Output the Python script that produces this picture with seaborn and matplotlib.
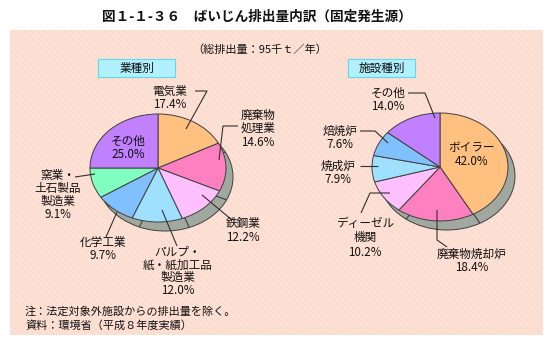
import matplotlib
matplotlib.use("Agg")
import matplotlib.pyplot as plt
import seaborn as sns
from matplotlib.patches import Rectangle

sns.set_theme(style="white")
plt.rcParams['font.family'] = ['Noto Sans CJK JP', 'DejaVu Sans']
plt.rcParams['hatch.linewidth'] = 0.5

# ---- data ----
ind_labels = ["電気業", "廃棄物\n処理業", "鉄鋼業", "パルプ・\n紙・紙加工品\n製造業",
              "化学工業", "窯業・\n土石製品\n製造業", "その他"]
ind_values = [17.4, 14.6, 12.2, 12.0, 9.7, 9.1, 25.0]

fac_labels = ["ボイラー", "廃棄物焼却炉", "ディーゼル\n機関", "焼成炉", "焙焼炉", "その他"]
fac_values = [42.0, 18.4, 10.2, 7.9, 7.6, 14.0]

ind_colors = sns.color_palette(["#ffc080", "#ff80c0", "#ffc0ff", "#a0e0ff",
                                "#80c0ff", "#80ffc0", "#c080ff"])
fac_colors = sns.color_palette(["#ffc080", "#ff80c0", "#ffc0ff", "#a0e0ff",
                                "#80c0ff", "#c080ff"])

title = "図１-１-３６　ばいじん排出量内訳（固定発生源）"
subtitle = "（総排出量：95千ｔ／年）"
note1 = "注：法定対象外施設からの排出量を除く。"
note2 = "資料：環境省（平成８年度実績）"

W, H = 554, 346
fig = plt.figure(figsize=(W / 100, H / 100), dpi=100)
fig.patch.set_facecolor("white")

# background axes in pixel coords
bg = fig.add_axes([0, 0, 1, 1], zorder=0)
bg.set_xlim(0, W); bg.set_ylim(H, 0); bg.axis("off")
bg.add_patch(Rectangle((10, 30), 533, 305, facecolor="#fde0d4", edgecolor="none"))
bg.add_patch(Rectangle((10, 30), 533, 305, facecolor="none", edgecolor="#fad6c9",
                       hatch="\\\\\\\\\\", linewidth=0))


def pie_axes(cx, cy, rx, ry, values, colors, box=130):
    ax = fig.add_axes([(cx - box) / W, 1 - (cy + box) / H, 2 * box / W, 2 * box / H], zorder=1)
    dx, dy = 7, 9
    ax.pie(values, colors=["#a0a8a0"] * len(values), startangle=90, counterclock=False,
           center=(dx / rx, -dy / ry), radius=1,
           wedgeprops=dict(edgecolor="#404040", linewidth=0.7))
    ax.pie(values, colors=colors, startangle=90, counterclock=False,
           center=(0, 0), radius=1,
           wedgeprops=dict(edgecolor="#404040", linewidth=0.7))
    ax.set_aspect("auto")
    ax.set_xlim(-box / rx, box / rx)
    ax.set_ylim(-box / ry, box / ry)
    ax.axis("off")
    ax.patch.set_alpha(0)
    return ax


pie_axes(158, 168, 68, 54, ind_values, ind_colors)
pie_axes(440, 167, 68, 54, fac_values, fac_colors)

# overlay axes for texts & leader lines
ov = fig.add_axes([0, 0, 1, 1], zorder=2)
ov.set_xlim(0, W); ov.set_ylim(H, 0); ov.axis("off"); ov.patch.set_alpha(0)

FS = 8.4
LC = "#303030"


def label(x, y0, text, value, step=13.5):
    lines = text.split("\n") + [f"{value:.1f}%"]
    for i, s in enumerate(lines):
        ov.text(x, y0 + i * step, s, ha="center", va="center", fontsize=FS,
                color="#111111")


def lead(pts):
    xs, ys = zip(*pts)
    ov.plot(xs, ys, color=LC, lw=0.8, solid_capstyle="butt")


ov.text(257, 17, title, ha="center", va="center", fontsize=9.8, fontweight="bold", color="#111111")
ov.text(260, 50, subtitle, ha="center", va="center", fontsize=8, color="#111111")
for (x0, x1, s) in [(98, 175, "業種別"), (348, 415, "施設種別")]:
    ov.add_patch(Rectangle((x0, 59), x1 - x0, 18, facecolor="#b0f0ff", edgecolor="#60d8f0", lw=0.8))
    ov.text((x0 + x1) / 2, 68, s, ha="center", va="center", fontsize=FS, color="#111111")

# left pie labels
label(170, 91, ind_labels[0], ind_values[0])
lead([(186, 129), (207, 91), (195, 91)])
label(258, 115, ind_labels[1], ind_values[1])
lead([(219, 160), (223, 126), (238, 126)])
label(243, 224, ind_labels[2], ind_values[2])
lead([(202, 195), (232, 220)])
label(178, 252, ind_labels[3], ind_values[3], step=12.7)
lead([(162, 210), (177, 246)])
label(103, 242, ind_labels[4], ind_values[4])
lead([(117, 212), (106, 237)])
label(58, 175, ind_labels[5], ind_values[5], step=13.3)
lead([(75, 177), (95, 174)])
label(128, 141, ind_labels[6], ind_values[6])

# right pie labels
label(472, 148, fac_labels[0], fac_values[0])
label(472, 254, fac_labels[1], fac_values[1])
lead([(437, 210), (437, 240), (447, 247)])
label(365, 223, fac_labels[2], fac_values[2], step=14.5)
lead([(390, 193), (370, 193), (361, 213)])
label(338, 166, fac_labels[3], fac_values[3])
lead([(378, 166), (360, 166)])
label(340, 131, fac_labels[4], fac_values[4])
lead([(388, 143), (375, 131), (360, 131)])
label(388, 93, fac_labels[5], fac_values[5])
lead([(435, 118), (425, 93), (408, 93)])

ov.text(25, 312, note1, ha="left", va="center", fontsize=8, color="#111111")
ov.text(25, 325, note2, ha="left", va="center", fontsize=8, color="#111111")

fig.savefig("out.png", dpi=100)
